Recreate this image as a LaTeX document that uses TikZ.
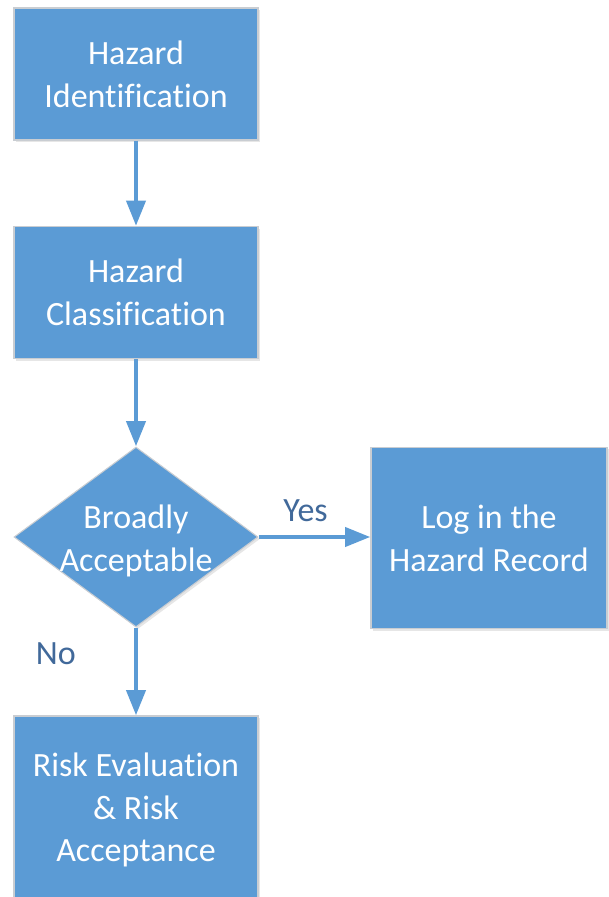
\documentclass[tikz,border=0pt]{standalone}
\usepackage{fontspec}
\setmainfont[Ligatures=NoCommon]{Carlito}
\usetikzlibrary{arrows.meta,shapes.geometric,shadows}

\begin{document}
\begin{tikzpicture}
  [x=0.75pt,y=-0.75pt,
  % Styles
  base/.style={fill=boxcolor,draw=edgecolor,line width=0.8pt,text=white,
    align=center,font=\fontsize{25.5}{32}\selectfont,
    drop shadow={opacity=0.2,shadow xshift=1.5pt,shadow yshift=-1.5pt}},
  process/.style={base,rectangle,minimum width=183pt,minimum height=99pt,inner sep=0pt},
  decision/.style={base,diamond,minimum width=183pt,minimum height=135pt,inner sep=0pt},
  flow/.style={draw=linecolor,line width=3.6pt,
    -{Triangle[length=19pt,width=14pt]}},
  answer/.style={text=labelcolor,font=\fontsize{25.5}{32}\selectfont}]
  % Colors
  \definecolor{boxcolor}{HTML}{5B9BD5}
  \definecolor{edgecolor}{HTML}{C9CDD2}
  \definecolor{linecolor}{HTML}{5B9BD5}
  \definecolor{labelcolor}{HTML}{41699A}
  % Bounding box
  \useasboundingbox (0,0) rectangle (608,897);
  % The graphic
  \node[process] (identify) at (136,74) {Hazard\\Identification};
  \node[process] (classify) at (136,292.5) {Hazard\\Classification};
  \node[decision,label={[text=white,align=center,yshift=-3pt,font=\fontsize{25.5}{32}\selectfont]center:Broadly\\Acceptable}]
    (accept) at (136,537) {};
  \node[process,minimum width=177pt,minimum height=136pt] (record) at (489,538)
    {Log in the\\Hazard Record};
  \node[process,minimum height=141pt] (evaluate) at (136,810)
    {Risk Evaluation\\\& Risk\\Acceptance};
  % Connectors
  \draw[flow] (identify) -- (classify);
  \draw[flow] (classify) -- (accept);
  \draw[flow] (accept.east) -- node[answer,pos=0.42,above=6.5pt] {Yes} (record.west |- accept.east);
  \draw[flow] (accept) -- node[answer,pos=0.3,left=40pt] {No} (evaluate);
\end{tikzpicture}
\end{document}
